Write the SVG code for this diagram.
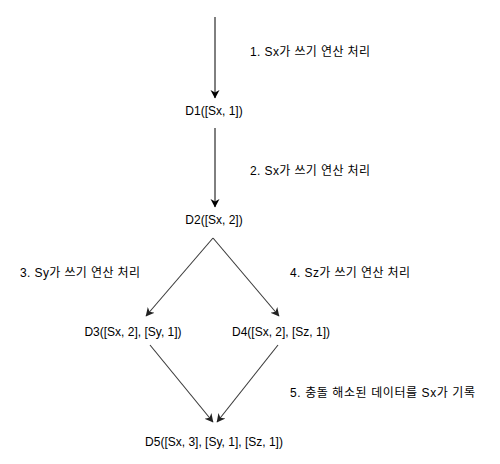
<svg xmlns="http://www.w3.org/2000/svg" width="500" height="464" viewBox="0 0 500 464">
<style>
text{font-family:"Liberation Sans",Arial,"Noto Sans CJK KR",sans-serif;font-size:12px;fill:#000}
.n{text-anchor:middle}
.e{fill:none;stroke-width:1}
.k{stroke:#000}
.g{stroke:#3a3a3a;stroke-width:1.1}
</style>
<defs>
<marker id="ak" markerWidth="10" markerHeight="12" refX="8" refY="6" orient="auto" markerUnits="userSpaceOnUse">
<path d="M0,1.5 L8.5,6 L0,10.5 L2.5,6 Z" fill="#000"/>
</marker>
<marker id="ag" markerWidth="10" markerHeight="12" refX="8" refY="6" orient="auto" markerUnits="userSpaceOnUse">
<path d="M0,1.5 L8.5,6 L0,10.5 L2.5,6 Z" fill="#222"/>
</marker>
</defs>
<rect width="500" height="464" fill="#fff"/>
<g id="connectors">
<line class="e k" x1="215" y1="17" x2="215" y2="98" marker-end="url(#ak)"/>
<line class="e k" x1="215" y1="128" x2="215" y2="207" marker-end="url(#ak)"/>
<line class="e g" x1="213" y1="238" x2="146" y2="316" marker-end="url(#ag)"/>
<line class="e g" x1="213" y1="238" x2="279" y2="316" marker-end="url(#ag)"/>
<line class="e g" x1="150" y1="345" x2="213" y2="422" marker-end="url(#ag)"/>
<line class="e g" x1="278" y1="345" x2="217" y2="422" marker-end="url(#ag)"/>
</g>
<g id="labels">
<text x="250" y="56" textLength="120" lengthAdjust="spacing">1. Sx가 쓰기 연산 처리</text>
<text x="250" y="175" textLength="120" lengthAdjust="spacing">2. Sx가 쓰기 연산 처리</text>
<text x="20" y="277" textLength="120" lengthAdjust="spacing">3. Sy가 쓰기 연산 처리</text>
<text x="290" y="277" textLength="120" lengthAdjust="spacing">4. Sz가 쓰기 연산 처리</text>
<text x="290" y="397" textLength="185" lengthAdjust="spacing">5. 충돌 해소된 데이터를 Sx가 기록</text>
</g>
<g id="D1"><text class="n" x="214" y="115">D1([Sx, 1])</text></g>
<g id="D2"><text class="n" x="214" y="224">D2([Sx, 2])</text></g>
<g id="D3"><text class="n" x="133" y="336">D3([Sx, 2], [Sy, 1])</text></g>
<g id="D4"><text class="n" x="281" y="336">D4([Sx, 2], [Sz, 1])</text></g>
<g id="D5"><text class="n" x="214" y="446">D5([Sx, 3], [Sy, 1], [Sz, 1])</text></g>
</svg>
